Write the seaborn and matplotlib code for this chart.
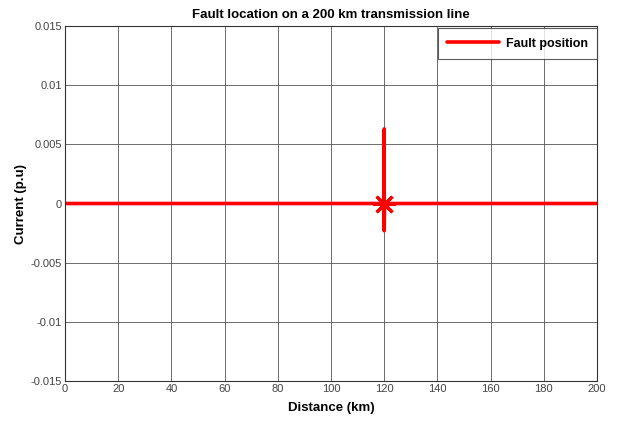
import matplotlib
matplotlib.use("Agg")
import matplotlib.pyplot as plt
import seaborn as sns
import pandas as pd

# Current profile along the line, spike at the fault
distance_km = [0, 119.9, 120.0, 120.0, 120.1, 200]
current_pu = [0, 0, 0.0063, -0.0023, 0, 0]
fault_km = [119.8]
fault_current = [0.0]
x_ticks = [0, 20, 40, 60, 80, 100, 120, 140, 160, 180, 200]
y_ticks = [-0.015, -0.01, -0.005, 0, 0.005, 0.01, 0.015]
y_labels = ["-0.015", "-0.01", "-0.005", "0", "0.005", "0.01", "0.015"]

sns.set_theme(style="white")
plt.rcParams["font.family"] = ["Liberation Sans", "DejaVu Sans"]
plt.rcParams["text.color"] = "black"
plt.rcParams["axes.labelcolor"] = "black"

fig = plt.figure(figsize=(6.21, 4.22), dpi=100)
ax = fig.add_axes([65 / 621, 1 - 381 / 422, 532 / 621, 355 / 422])

df = pd.DataFrame({"Distance": distance_km, "Current": current_pu})
sns.lineplot(data=df, x="Distance", y="Current", sort=False, estimator=None,
             color="#ff0000", linewidth=2.6, ax=ax, label="Fault position")
ax.plot(fault_km, fault_current, marker=(8, 2, 0), markersize=16,
        color="#ff0000", markeredgewidth=2.2, linestyle="none")

ax.set_xlim(0, 200)
ax.set_ylim(-0.015, 0.015)
ax.set_xticks(x_ticks)
ax.set_yticks(y_ticks)
ax.set_yticklabels(y_labels)
ax.tick_params(axis="both", labelsize=8, labelcolor="#444444", length=0, pad=2)
ax.grid(True, color="#555555", linewidth=0.6)
for s in ax.spines.values():
    s.set_color("#333333")
    s.set_linewidth(0.8)

ax.set_xlabel("Distance (km)", fontsize=9.5, fontweight="bold", labelpad=6)
ax.set_ylabel("Current (p.u)", fontsize=9.5, fontweight="bold", labelpad=3)
ax.set_title("Fault location on a 200 km transmission line", fontsize=9.5,
             fontweight="bold", pad=6)

leg = ax.legend(loc="upper right", bbox_to_anchor=(1.0, 0.994), fontsize=9,
                frameon=True, fancybox=False, borderaxespad=0.0,
                handlelength=4.2, handletextpad=0.5, borderpad=0.75)
leg.get_frame().set_edgecolor("#333333")
leg.get_frame().set_linewidth(0.8)
for t in leg.get_texts():
    t.set_fontweight("bold")
    t.set_color("black")

fig.savefig("out.png", dpi=100)
